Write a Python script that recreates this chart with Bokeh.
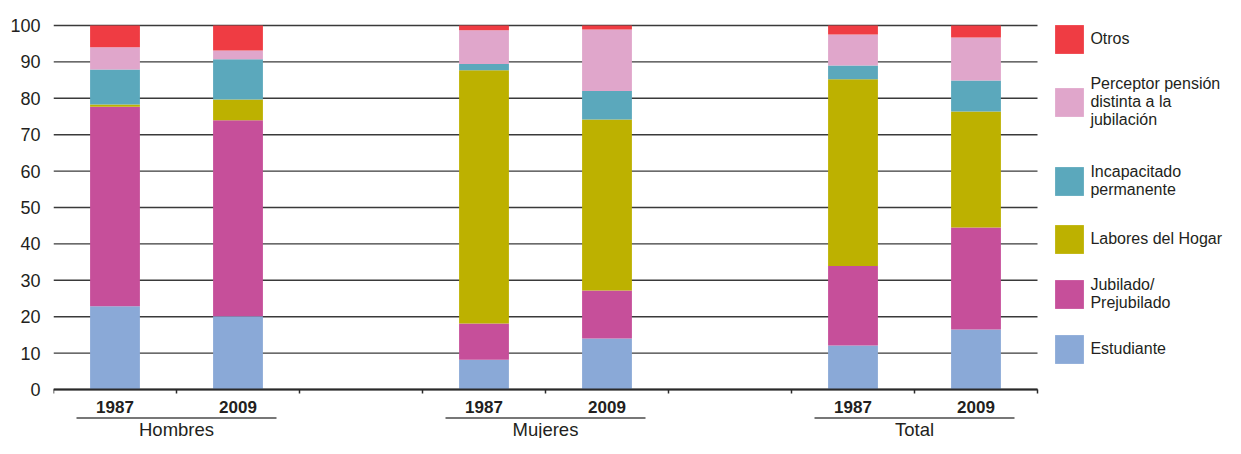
from bokeh.plotting import figure
from bokeh.models import ColumnDataSource, Range1d, FixedTicker, Legend, LegendItem
from bokeh.core.properties import value
from bokeh.embed import file_html
from bokeh.resources import INLINE

# ---------------- data ----------------
groups = ["Hombres", "Mujeres", "Total"]
years = ["1987", "2009"]

estudiante = [22.9, 20.1, 8.2, 14.0, 12.1, 16.5]
jubilado = [54.8, 53.9, 9.9, 13.2, 21.8, 28.0]
labores = [0.6, 5.7, 69.6, 47.0, 51.3, 31.9]
incapacitado = [9.6, 11.0, 1.7, 7.8, 3.8, 8.5]
perceptor = [6.1, 2.4, 9.3, 16.9, 8.5, 11.8]
otros = [6.0, 6.9, 1.3, 1.1, 2.5, 3.3]

series_keys = ["estudiante", "jubilado", "labores", "incapacitado", "perceptor", "otros"]
series_labels = ["Estudiante", "Jubilado/\nPrejubilado", "Labores del Hogar",
                 "Incapacitado\npermanente", "Perceptor pensión\ndistinta a la\njubilación", "Otros"]
colors = ["#8aa9d7", "#c64f9a", "#bdb100", "#5ba8bc", "#e0a6cb", "#ef3c43"]
y_ticks = list(range(0, 101, 10))

# ---------------- layout helpers ----------------
FONT = "Liberation Sans"
TXT = "#231f20"
W, H = 1225, 438
LEFT, TOP = 53, 6
SLOT_PX = 123             # pixels per category slot
PX = 3.64                 # pixels per percentage point
Y0 = 389                  # pixel row of value 0
y_top = 100 + (25 - TOP) / PX
y_bot = -(H - Y0) / PX

def py(pix):
    return -(pix - Y0) / PX

slots_per_group = len(years) + 1
n_slots = len(groups) * slots_per_group - 1
xs, year_lab = [], []
for g in range(len(groups)):
    for i, yr in enumerate(years):
        xs.append(g * slots_per_group + i + 0.5)
        year_lab.append(yr)
group_centers = [g * slots_per_group + len(years) / 2 for g in range(len(groups))]

src = ColumnDataSource(dict(x=xs, estudiante=estudiante, jubilado=jubilado, labores=labores,
                            incapacitado=incapacitado, perceptor=perceptor, otros=otros))

p = figure(width=W, height=H, output_backend="svg", toolbar_location=None,
           x_range=Range1d(0, (W - LEFT) / SLOT_PX), y_range=Range1d(y_bot, y_top),
           x_axis_location=None, min_border_left=LEFT, min_border_right=0,
           min_border_top=TOP, min_border_bottom=0)
p.outline_line_color = None
p.background_fill_color = "white"
p.xgrid.visible = False
p.ygrid.visible = False

# horizontal grid lines, limited to the category area
p.segment(x0=[0] * len(y_ticks), x1=[n_slots] * len(y_ticks), y0=y_ticks, y1=y_ticks,
          line_color="#3a3a3a", line_width=1.4)

# y axis
p.yaxis.ticker = FixedTicker(ticks=y_ticks)
p.yaxis.axis_line_color = None
p.yaxis.major_tick_line_color = None
p.yaxis.minor_tick_line_color = None
p.yaxis.major_tick_out = 0
p.yaxis.major_tick_in = 0
p.yaxis.major_label_standoff = 13
p.yaxis.major_label_text_font = FONT
p.yaxis.major_label_text_font_size = "18px"
p.yaxis.major_label_text_color = TXT

# bars
renderers = p.vbar_stack(series_keys, x="x", width=0.405, color=colors, line_color=None, source=src)

# baseline + ticks below
p.segment(x0=[0], x1=[n_slots], y0=[0], y1=[0], line_color="#2a2a2a", line_width=2)
bounds = list(range(0, n_slots + 1))
p.segment(x0=bounds, x1=bounds, y0=[0] * len(bounds), y1=[-4 / PX] * len(bounds),
          line_color="#2a2a2a", line_width=1.5)

# year labels
p.text(x=xs, y=[py(406)] * len(xs), text=year_lab,
       text_font=value(FONT), text_font_style="bold", text_font_size=value("17px"),
       text_color=TXT, text_align="center", text_baseline="middle")

# group underline + labels
half = 100 / SLOT_PX
p.segment(x0=[c - half for c in group_centers], x1=[c + half for c in group_centers],
          y0=[py(417.5)] * 3, y1=[py(417.5)] * 3, line_color="#4a4a4a", line_width=1.3)
p.text(x=group_centers, y=[py(428.5)] * 3, text=groups,
       text_font=value(FONT), text_font_size=value("18.5px"), text_color=TXT,
       text_align="center", text_baseline="middle")

# legend: one Legend per entry (Otros at the top), positioned in screen pixels
FS = 16
LH = 1.15
GLYPH = 36
inset = GLYPH * 0.1
centers = [38.5, 101, 181, 238.5, 294, 348.5]     # wanted vertical centres (px)
sq_left = 1055
for k, idx in enumerate(reversed(range(len(series_keys)))):
    n_lines = series_labels[idx].count("\n") + 1
    item_h = max(GLYPH, n_lines * FS * LH)
    bottom = centers[k] + item_h / 2
    leg = Legend(items=[LegendItem(label=value(series_labels[idx]), renderers=[renderers[idx]])],
                 location=(sq_left - inset - LEFT, H - bottom),
                 glyph_width=GLYPH, glyph_height=GLYPH, label_standoff=3,
                 padding=0, margin=0, spacing=0, border_line_color=None,
                 background_fill_alpha=0, label_text_font=FONT,
                 label_text_font_size=f"{FS}px", label_text_color=TXT,
                 label_text_line_height=LH)
    p.add_layout(leg, "center")

open("out.html", "w").write(file_html(p, INLINE))
